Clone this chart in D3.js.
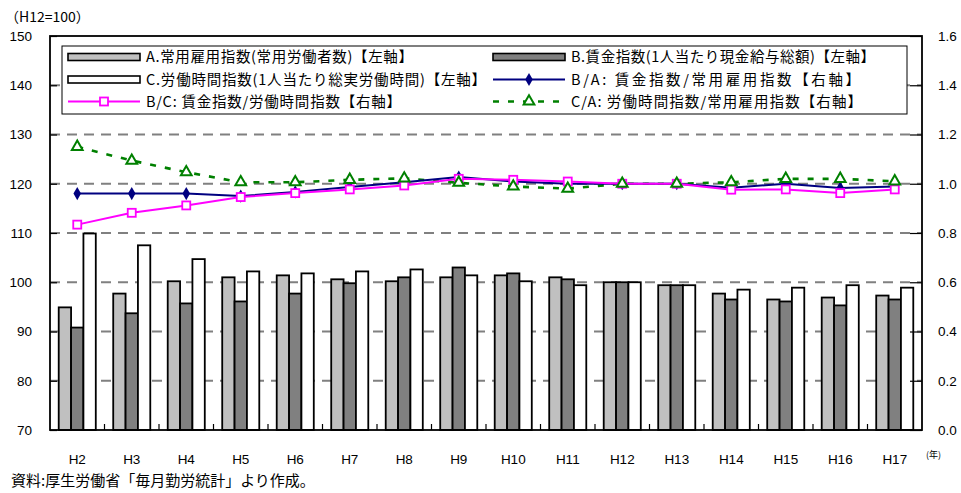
<!DOCTYPE html>
<html><head><meta charset="utf-8">
<script src="https://cdn.jsdelivr.net/npm/d3@7"></script>
<style>body{margin:0;background:#fff}svg{display:block}text{font-family:"Noto Sans CJK JP","Liberation Sans",Arial,sans-serif}</style>
</head><body><svg id="c" width="961" height="493"></svg>
<script>
const categories = ["H2","H3","H4","H5","H6","H7","H8","H9","H10","H11","H12","H13","H14","H15","H16","H17"];
const seriesA = [94.9,97.7,100.2,101.0,101.4,100.6,100.2,101.0,101.4,101.0,100,99.4,97.7,96.5,96.9,97.3];
const seriesB = [90.8,93.7,95.7,96.1,97.7,99.8,101.0,103.0,101.8,100.6,100,99.4,96.5,96.1,95.3,96.5];
const seriesC = [109.9,107.5,104.7,102.2,101.8,102.2,102.6,101.4,100.2,99.4,100,99.4,98.5,98.9,99.4,98.9];
const ratioBA = [0.96,0.96,0.96,0.95,0.967,0.987,1.006,1.027,1.009,1.0,1.0,1.0,0.984,1.0,0.983,0.989];
const ratioBC = [0.834,0.882,0.912,0.946,0.962,0.977,0.993,1.02,1.016,1.009,1.0,1.0,0.976,0.977,0.962,0.977];
const ratioCA = [1.15,1.094,1.047,1.006,1.006,1.016,1.022,1.004,0.989,0.98,1.0,1.0,1.006,1.02,1.02,1.01];
const leftTicks = [70,80,90,100,110,120,130,140,150];
const rightTicks = [0.0,0.2,0.4,0.6,0.8,1.0,1.2,1.4,1.6];
const legendLabels = [
 "A.常用雇用指数(常用労働者数)【左軸】",
 "B.賃金指数(1人当たり現金給与総額)【左軸】",
 "C.労働時間指数(1人当たり総実労働時間)【左軸】",
 "B/A: 賃金指数/常用雇用指数【右軸】",
 "B/C: 賃金指数/労働時間指数【右軸】",
 "C/A: 労働時間指数/常用雇用指数【右軸】"];
const unitLabel = "（H12=100）";
const yearLabel = "(年)";
const sourceLabel = "資料:厚生労働省「毎月勤労統計」より作成。";

const svg = d3.select("#c");
const L=50, R=922, T=36, B=430;
const x = d3.scaleBand().domain(categories).range([L,R]).padding(0);
const yL = d3.scaleLinear().domain([70,150]).range([B,T]);
const yR = d3.scaleLinear().domain([0,1.6]).range([B,T]);
const groupW = x.bandwidth()*0.68;
const xs = d3.scaleBand().domain(["A","B","C"]).range([0,groupW]);

// gridlines
svg.append("g").selectAll("line").data(leftTicks.filter(v=>v>70&&v<150)).join("line")
 .attr("x1",L).attr("x2",R).attr("y1",d=>yL(d)).attr("y2",d=>yL(d))
 .attr("stroke","#808080").attr("stroke-width",1.8).attr("stroke-dasharray","10,7");

// bars
const fills = {A:"#c0c0c0",B:"#808080",C:"#ffffff"};
const data = {A:seriesA,B:seriesB,C:seriesC};
["A","B","C"].forEach(k=>{
  svg.append("g").selectAll("rect").data(categories).join("rect")
   .attr("x",(c)=>x(c)+(x.bandwidth()-groupW)/2+xs(k))
   .attr("width",xs.bandwidth())
   .attr("y",(c,i)=>yL(data[k][i]))
   .attr("height",(c,i)=>B-yL(data[k][i]))
   .attr("fill",fills[k]).attr("stroke","#000").attr("stroke-width",1.8);
});

// axes
const axL = d3.axisLeft(yL).tickValues(leftTicks).tickSize(-7).tickPadding(18).tickFormat(d3.format("d"));
const gL = svg.append("g").attr("transform",`translate(${L},0)`).call(axL);
const axR = d3.axisRight(yR).tickValues(rightTicks).tickSize(-12).tickPadding(16).tickFormat(d3.format(".1f"));
const gR = svg.append("g").attr("transform",`translate(${R},0)`).call(axR);
const axB = d3.axisBottom(x).tickSize(0).tickPadding(24);
const gB = svg.append("g").attr("transform",`translate(0,${B})`).call(axB);
[gL,gR,gB].forEach(g=>{g.select(".domain").remove();g.selectAll("text").attr("font-size",13.5).attr("fill","#000").style("font-family","'Liberation Sans',Arial,sans-serif");g.selectAll("line").attr("stroke","#000").attr("stroke-width",1.2);});
// category separator ticks (inward)
svg.append("g").selectAll("line").data(categories.slice(1)).join("line")
 .attr("x1",c=>x(c)).attr("x2",c=>x(c)).attr("y1",B).attr("y2",B-6).attr("stroke","#000").attr("stroke-width",1.2);
// frame
svg.append("rect").attr("x",L).attr("y",T).attr("width",R-L).attr("height",B-T)
 .attr("fill","none").attr("stroke","#000").attr("stroke-width",1.8);

// lines
const cx = c=>x(c)+x.bandwidth()/2;
function drawLine(vals,color,dash,w){
  const line = d3.line().x((d,i)=>cx(categories[i])).y(d=>yR(d));
  svg.append("path").datum(vals).attr("d",line).attr("fill","none")
   .attr("stroke",color).attr("stroke-width",w||2).attr("stroke-dasharray",dash||null);
}
drawLine(ratioCA,"#008000","6,9",2.6);
drawLine(ratioBA,"#000080");
drawLine(ratioBC,"#ff00ff");
const diamond = d3.symbol().type(d3.symbolDiamond).size(50);
const tri = d3.symbol().type(d3.symbolTriangle).size(50);
svg.append("g").selectAll("path").data(ratioBA).join("path").attr("d",diamond)
 .attr("transform",(d,i)=>`translate(${cx(categories[i])},${yR(d)})`).attr("fill","#000080");
svg.append("g").selectAll("rect").data(ratioBC).join("rect")
 .attr("x",(d,i)=>cx(categories[i])-4).attr("y",d=>yR(d)-4).attr("width",8).attr("height",8)
 .attr("fill","#fff").attr("stroke","#ff00ff").attr("stroke-width",1.8);
svg.append("g").selectAll("path").data(ratioCA).join("path").attr("d",tri)
 .attr("transform",(d,i)=>`translate(${cx(categories[i])},${yR(d)})`).attr("fill","#fff").attr("stroke","#008000").attr("stroke-width",2);

// legend
const lg = svg.append("g");
lg.append("rect").attr("x",62).attr("y",46).attr("width",845).attr("height",68).attr("fill","#fff").attr("stroke","#000").attr("stroke-width",1);
const colX=[68,493], rowY=[57,79.5,101.5];
const textW=[267,304,340,289,255,291];
const items=[{t:"bar",f:fills.A},{t:"bar",f:fills.B},{t:"bar",f:fills.C},{t:"line",c:"#000080",m:"d"},{t:"line",c:"#ff00ff",m:"s"},{t:"line",c:"#008000",m:"t",dash:"6,9"}];
items.forEach((it,i)=>{
  const gx=colX[i%2], gy=rowY[Math.floor(i/2)];
  if(it.t==="bar"){
    lg.append("rect").attr("x",gx).attr("y",gy-3.5).attr("width",72).attr("height",7).attr("fill",it.f).attr("stroke","#000").attr("stroke-width",1.6);
  } else {
    lg.append("line").attr("x1",gx).attr("x2",gx+72).attr("y1",gy).attr("y2",gy).attr("stroke",it.c).attr("stroke-width",it.dash?2.6:2).attr("stroke-dasharray",it.dash||null);
    const mx=gx+36;
    if(it.m==="d") lg.append("path").attr("d",diamond).attr("transform",`translate(${mx},${gy})`).attr("fill",it.c);
    if(it.m==="s") lg.append("rect").attr("x",mx-4).attr("y",gy-4).attr("width",8).attr("height",8).attr("fill","#fff").attr("stroke",it.c).attr("stroke-width",1.8);
    if(it.m==="t") lg.append("path").attr("d",tri).attr("transform",`translate(${mx},${gy})`).attr("fill","#fff").attr("stroke",it.c).attr("stroke-width",2);
  }
  lg.append("text").attr("x",gx+78).attr("y",gy).attr("dy","0.36em").attr("font-size",14.5)
    .attr("textLength",textW[i]).attr("lengthAdjust","spacing").text(legendLabels[i]);
});

// other texts
svg.append("text").attr("x",5).attr("y",22).attr("font-size",14).text(unitLabel);
svg.append("text").attr("x",926).attr("y",458).attr("font-size",9).text(yearLabel);
svg.append("text").attr("x",11).attr("y",486).attr("font-size",15).text(sourceLabel);
</script></body></html>
